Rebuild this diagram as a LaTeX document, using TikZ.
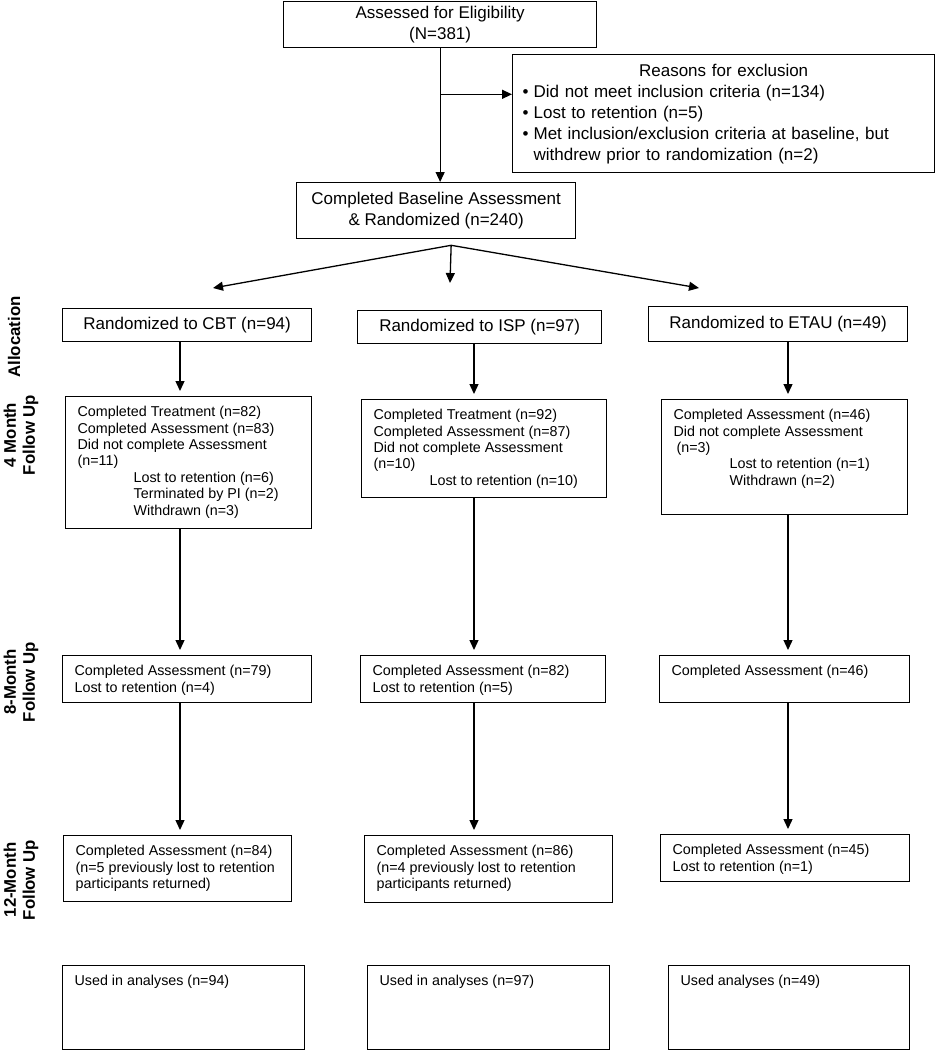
\documentclass[tikz,border=0pt]{standalone}
\usepackage{fontspec}
\setmainfont{Liberation Sans}
\usepackage{tikz}
\usetikzlibrary{arrows.meta,positioning}
\setlength{\parindent}{0pt}
\newcommand{\boxtext}[3]{\parbox[c][#2][t]{#1}{\raggedright\rule{0pt}{20pt}#3}}

\begin{document}
\begin{tikzpicture}[x=1pt,y=-1pt,line width=1.3pt,>={Triangle[length=10pt,width=9pt]},
  big/.style={draw,anchor=north west,inner sep=0pt,align=center,font=\fontsize{17}{21}\selectfont},
  small/.style={draw,anchor=north west,inner xsep=12pt,inner ysep=0pt,font=\fontsize{14.3}{16.4}\selectfont},
  side/.style={rotate=90,align=center,font=\bfseries\fontsize{16.8}{19}\selectfont}]
\useasboundingbox (0,0) rectangle (937,1050);

\node[big,minimum width=313pt,minimum height=46pt] (elig) at (283,1)
{Assessed for Eligibility\\(N=381)};
\node[big,align=left,text width=422pt,minimum height=118pt] (excl) at (512,54)
{{\centering Reasons for exclusion\par}
\hspace*{10pt}\textbullet\hspace{5pt}Did not meet inclusion criteria (n=134)\par
\hspace*{10pt}\textbullet\hspace{5pt}Lost to retention (n=5)\par
\hspace*{10pt}\textbullet\hspace{5pt}Met inclusion/exclusion criteria at baseline, but\par
\hspace*{21pt}withdrew prior to randomization (n=2)};
\node[big,minimum width=279pt,minimum height=56pt] (base) at (296,182)
{Completed Baseline Assessment\\\& Randomized (n=240)};

\node[big,minimum width=249pt,minimum height=33pt] (cbt) at (62,308) {Randomized to CBT (n=94)};
\node[big,minimum width=244pt,minimum height=33pt] (isp) at (357,310) {Randomized to ISP (n=97)};
\node[big,minimum width=259pt,minimum height=35pt] (etau) at (648,306) {Randomized to ETAU (n=49)};

\node[small] (cbt4) at (65,396) {\boxtext{222pt}{132pt}{Completed Treatment (n=82)\\
Completed Assessment (n=83)\\
Did not complete Assessment\\
(n=11)\\
\hspace*{56pt}Lost to retention (n=6)\\
\hspace*{56pt}Terminated by PI (n=2)\\
\hspace*{56pt}Withdrawn (n=3)}};
\node[small] (isp4) at (361,399) {\boxtext{221pt}{98pt}{Completed Treatment (n=92)\\
Completed Assessment (n=87)\\
Did not complete Assessment\\
(n=10)\\
\hspace*{56pt}Lost to retention (n=10)}};
\node[small] (etau4) at (661,399) {\boxtext{222pt}{115pt}{Completed Assessment (n=46)\\
Did not complete Assessment\\
\hspace*{3pt}(n=3)\\
\hspace*{56pt}Lost to retention (n=1)\\
\hspace*{56pt}Withdrawn (n=2)}};

\node[small] (cbt8) at (62,655) {\boxtext{225pt}{47pt}{Completed Assessment (n=79)\\
Lost to retention (n=4)}};
\node[small] (isp8) at (360,655) {\boxtext{221pt}{47pt}{Completed Assessment (n=82)\\
Lost to retention (n=5)}};
\node[small] (etau8) at (659,655) {\boxtext{226pt}{47pt}{Completed Assessment (n=46)}};

\node[small] (cbt12) at (63,835) {\boxtext{204pt}{66pt}{Completed Assessment (n=84)\\
(n=5 previously lost to retention\\
participants returned)}};
\node[small] (isp12) at (364,835) {\boxtext{224pt}{67pt}{Completed Assessment (n=86)\\
(n=4 previously lost to retention\\
participants returned)}};
\node[small] (etau12) at (660,834) {\boxtext{225pt}{47pt}{Completed Assessment (n=45)\\
Lost to retention (n=1)}};

\node[small] (cbtU) at (62,965) {\boxtext{218pt}{84pt}{Used in analyses (n=94)}};
\node[small] (ispU) at (367,965) {\boxtext{218pt}{84pt}{Used in analyses (n=97)}};
\node[small] (etauU) at (668,965) {\boxtext{217pt}{84pt}{Used analyses (n=49)}};

\node[side] (alloc) at (14,337) {Allocation};
\node[side] (fu4) at (21,435) {4 Month\\Follow Up};
\node[side] (fu8) at (21,682) {8-Month\\Follow Up};
\node[side] (fu12) at (21,880) {12-Month\\Follow Up};

\draw[->] (elig.south) -- (elig.south |- base.north);
\path (elig.south) ++(0,46) coordinate (br);
\draw[->] (br) -- (br -| excl.west);

\path (base.south) ++(15,6) coordinate (sp);
\coordinate (tl) at (213,288);
\coordinate (tm) at (450,283);
\coordinate (tr) at (699,288);
\draw[->] (sp) -- (tl);
\draw[->] (sp) -- (tm);
\draw[->] (sp) -- (tr);

\coordinate (col1) at (180,0);
\coordinate (col2) at (474,0);
\coordinate (col3) at (788,0);
\draw[->,shorten >=5pt] (cbt.south -| col1) -- (cbt4.north -| col1);
\draw[->,shorten >=5pt] (isp.south -| col2) -- (isp4.north -| col2);
\draw[->,shorten >=5pt] (etau.south -| col3) -- (etau4.north -| col3);
\draw[->,shorten >=5pt] (cbt4.south -| col1) -- (cbt8.north -| col1);
\draw[->,shorten >=5pt] (isp4.south -| col2) -- (isp8.north -| col2);
\draw[->,shorten >=5pt] (etau4.south -| col3) -- (etau8.north -| col3);
\draw[->,shorten >=5pt] (cbt8.south -| col1) -- (cbt12.north -| col1);
\draw[->,shorten >=5pt] (isp8.south -| col2) -- (isp12.north -| col2);
\draw[->,shorten >=5pt] (etau8.south -| col3) -- (etau12.north -| col3);
\end{tikzpicture}
\end{document}
